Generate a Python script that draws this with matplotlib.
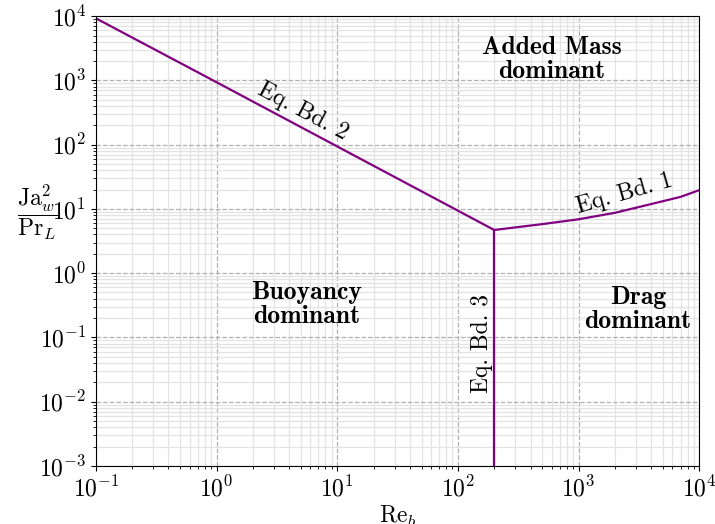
import numpy as np
import matplotlib
matplotlib.use('Agg')
from matplotlib import pyplot as plt

plt.rcParams['mathtext.fontset'] = 'cm'
plt.rcParams['font.family'] = 'serif'
plt.rcParams['font.serif'] = ['cmr10']
plt.rcParams['axes.formatter.use_mathtext'] = True
plt.rcParams['font.size'] = 17

# boundary 1 (added mass / drag)
re_bd1 = [200, 500, 1000, 2000, 3700, 7000, 10000]
ja_bd1 = [4.7, 5.8, 6.9, 8.7, 11.5, 15.4, 19.6]
# boundary 2 (added mass / buoyancy)
re_bd2 = [0.1, 1, 10, 100, 200]
ja_bd2 = [9300, 940, 94, 9.4, 4.7]
# boundary 3 (buoyancy / drag)
re_bd3 = [200, 200]
ja_bd3 = [1e-3, 4.7]

col = '#800080'

fig = plt.figure(figsize=(7.15, 5.24), dpi=100)
ax = fig.add_axes([0.134, 0.111, 0.844, 0.858])

ax.plot(re_bd1, ja_bd1, color=col, lw=1.6)
ax.plot(re_bd2, ja_bd2, color=col, lw=1.6)
ax.plot(re_bd3, ja_bd3, color=col, lw=1.6)

ax.set_xscale('log')
ax.set_yscale('log')
ax.set_xlim(1e-1, 1e4)
ax.set_ylim(1e-3, 1e4)
ax.yaxis.set_major_locator(matplotlib.ticker.LogLocator(base=10, numticks=20))
ax.yaxis.set_minor_locator(matplotlib.ticker.LogLocator(base=10, subs=np.arange(2, 10), numticks=20))

ax.grid(which='major', ls='--', color='#b0b0b0', lw=0.9)
ax.grid(which='minor', ls='-', color='#e3e3e3', lw=0.9)
ax.set_axisbelow(True)

ax.set_xlabel(r'$\mathrm{Re}_b$')
ax.xaxis.set_label_coords(0.5, -0.085)
ax.set_ylabel(r'$\dfrac{\mathrm{Ja}_w^2}{\mathrm{Pr}_L}$', rotation=0, va='center', ha='center')
ax.yaxis.set_label_coords(-0.097, 0.565)

ax.text(5.2, 330, 'Eq. Bd. 2', rotation=-28, ha='center', va='center')
ax.text(2400, 17, 'Eq. Bd. 1', rotation=16, ha='center', va='center')
ax.text(158, 0.08, 'Eq. Bd. 3', rotation=90, ha='center', va='center')

ax.text(600, 2100, 'Added Mass\ndominant', family='cmb10', size=18.5, ha='center', va='center', linespacing=1.05)
ax.text(5.6, 0.32, 'Buoyancy\ndominant', family='cmb10', size=18.5, ha='center', va='center', linespacing=1.05)
ax.text(3100, 0.27, 'Drag\ndominant', family='cmb10', size=18.5, ha='center', va='center', linespacing=1.05)

fig.savefig('out.png', dpi=100)
